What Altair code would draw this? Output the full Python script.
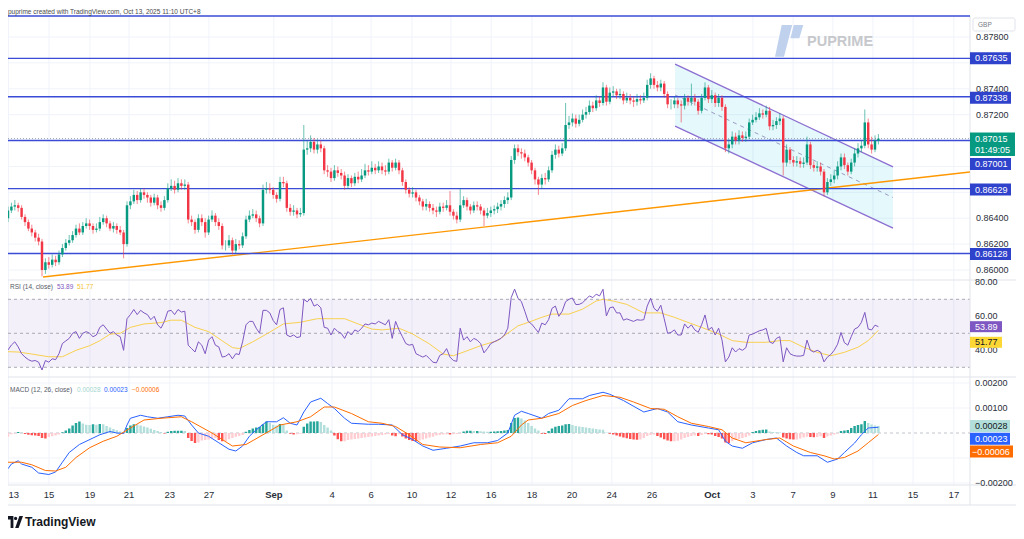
import altair as alt
import pandas as pd

# ---------------- data ----------------
first_open = 0.8640
closes = [
    0.8646, 0.8649, 0.8650, 0.8648, 0.8641, 0.8637, 0.8632, 0.8629, 0.8625, 0.8622,
    0.8600, 0.8606, 0.8604, 0.8608, 0.8606, 0.8612, 0.8617, 0.8621, 0.8623, 0.8627,
    0.8632, 0.8629, 0.8634, 0.8636, 0.8634, 0.8631, 0.8632, 0.8637, 0.8640, 0.8636,
    0.8632, 0.8634, 0.8631, 0.8629, 0.8620, 0.8650, 0.8653, 0.8658, 0.8654, 0.8660,
    0.8658, 0.8656, 0.8652, 0.8656, 0.8650, 0.8648, 0.8654, 0.8663, 0.8665, 0.8662,
    0.8667, 0.8665, 0.8666, 0.8639, 0.8637, 0.8631, 0.8640, 0.8637, 0.8629, 0.8639,
    0.8642, 0.8637, 0.8634, 0.8619, 0.8619, 0.8623, 0.8615, 0.8620, 0.8619, 0.8626,
    0.8639, 0.8642, 0.8643, 0.8640, 0.8636, 0.8662, 0.8663, 0.8662, 0.8658, 0.8655,
    0.8668, 0.8667, 0.8648, 0.8645, 0.8646, 0.8643, 0.8644, 0.8693, 0.8694, 0.8699,
    0.8693, 0.8697, 0.8694, 0.8677, 0.8676, 0.8671, 0.8677, 0.8675, 0.8673, 0.8665,
    0.8671, 0.8667, 0.8672, 0.8670, 0.8673, 0.8677, 0.8676, 0.8679, 0.8677, 0.8680,
    0.8677, 0.8676, 0.8683, 0.8679, 0.8683, 0.8677, 0.8668, 0.8662, 0.8659, 0.8660,
    0.8656, 0.8653, 0.8649, 0.8651, 0.8648, 0.8646, 0.8645, 0.8649, 0.8648, 0.8650,
    0.8645, 0.8642, 0.8639, 0.8650, 0.8654, 0.8649, 0.8646, 0.8650, 0.8649, 0.8646,
    0.8642, 0.8644, 0.8646, 0.8647, 0.8649, 0.8651, 0.8654, 0.8656, 0.8685, 0.8694,
    0.8691, 0.8690, 0.8687, 0.8683, 0.8677, 0.8670, 0.8666, 0.8671, 0.8670, 0.8677,
    0.8689, 0.8693, 0.8690, 0.8694, 0.8712, 0.8714, 0.8717, 0.8713, 0.8716, 0.8720,
    0.8722, 0.8727, 0.8725, 0.8731, 0.8729, 0.8741, 0.8730, 0.8737, 0.8738, 0.8735,
    0.8736, 0.8731, 0.8733, 0.8731, 0.8730, 0.8732, 0.8731, 0.8733, 0.8743, 0.8748,
    0.8743, 0.8741, 0.8744, 0.8736, 0.8728, 0.8728, 0.8731, 0.8728, 0.8727, 0.8733,
    0.8730, 0.8733, 0.8730, 0.8723, 0.8733, 0.8741, 0.8732, 0.8735, 0.8729, 0.8733,
    0.8726, 0.8694, 0.8697, 0.8703, 0.8700, 0.8704, 0.8702, 0.8703, 0.8714, 0.8716,
    0.8718, 0.8721, 0.8720, 0.8723, 0.8711, 0.8712, 0.8715, 0.8717, 0.8683, 0.8693,
    0.8685, 0.8683, 0.8684, 0.8682, 0.8683, 0.8697, 0.8681, 0.8679, 0.8680, 0.8676,
    0.8660, 0.8668, 0.8670, 0.8673, 0.8680, 0.8687, 0.8681, 0.8676, 0.8683, 0.8690,
    0.8694, 0.8696, 0.8714, 0.8697, 0.8693, 0.8700, 0.87015,
]
highs = [
    0.8649, 0.8652, 0.8654, 0.8652, 0.8650, 0.8643, 0.8639, 0.8635, 0.8631, 0.8628,
    0.8624, 0.8609, 0.8610, 0.8612, 0.8611, 0.8615, 0.8620, 0.8624, 0.8627, 0.8630,
    0.8635, 0.8636, 0.8637, 0.8640, 0.8639, 0.8636, 0.8636, 0.8641, 0.8643, 0.8642,
    0.8638, 0.8637, 0.8636, 0.8634, 0.8631, 0.8653, 0.8657, 0.8662, 0.8661, 0.8663,
    0.8663, 0.8660, 0.8658, 0.8659, 0.8658, 0.8653, 0.8657, 0.8667, 0.8670, 0.8669,
    0.8671, 0.8670, 0.8670, 0.8668, 0.8642, 0.8639, 0.8643, 0.8643, 0.8640, 0.8642,
    0.8646, 0.8644, 0.8640, 0.8636, 0.8623, 0.8627, 0.8625, 0.8624, 0.8623, 0.8629,
    0.8642, 0.8646, 0.8647, 0.8646, 0.8642, 0.8666, 0.8668, 0.8667, 0.8664, 0.8660,
    0.8672, 0.8672, 0.8669, 0.8651, 0.8650, 0.8648, 0.8648, 0.8712, 0.8700, 0.8704,
    0.8702, 0.8701, 0.8700, 0.8696, 0.8681, 0.8679, 0.8681, 0.8680, 0.8678, 0.8676,
    0.8674, 0.8673, 0.8675, 0.8676, 0.8678, 0.8682, 0.8681, 0.8684, 0.8682, 0.8684,
    0.8683, 0.8681, 0.8686, 0.8685, 0.8686, 0.8685, 0.8679, 0.8670, 0.8664, 0.8664,
    0.8662, 0.8658, 0.8655, 0.8655, 0.8653, 0.8651, 0.8649, 0.8652, 0.8652, 0.8654,
    0.8661, 0.8647, 0.8645, 0.8663, 0.8657, 0.8656, 0.8651, 0.8653, 0.8653, 0.8651,
    0.8648, 0.8648, 0.8649, 0.8650, 0.8652, 0.8654, 0.8657, 0.8660, 0.8688, 0.8697,
    0.8697, 0.8694, 0.8693, 0.8689, 0.8685, 0.8679, 0.8672, 0.8674, 0.8675, 0.8680,
    0.8692, 0.8697, 0.8696, 0.8698, 0.8729, 0.8719, 0.8721, 0.8720, 0.8720, 0.8724,
    0.8726, 0.8731, 0.8730, 0.8735, 0.8734, 0.8745, 0.8743, 0.8741, 0.8742, 0.8740,
    0.8740, 0.8738, 0.8737, 0.8736, 0.8734, 0.8736, 0.8735, 0.8737, 0.8747, 0.8752,
    0.8750, 0.8746, 0.8747, 0.8746, 0.8738, 0.8732, 0.8734, 0.8733, 0.8731, 0.8736,
    0.8735, 0.8744, 0.8736, 0.8732, 0.8736, 0.8745, 0.8743, 0.8739, 0.8737, 0.8736,
    0.8735, 0.8728, 0.8701, 0.8707, 0.8706, 0.8708, 0.8707, 0.8707, 0.8717, 0.8720,
    0.8722, 0.8725, 0.8724, 0.8727, 0.8726, 0.8716, 0.8718, 0.8721, 0.8719, 0.8697,
    0.8695, 0.8688, 0.8688, 0.8687, 0.8687, 0.8703, 0.8699, 0.8684, 0.8684, 0.8683,
    0.8678, 0.8671, 0.8674, 0.8677, 0.8684, 0.8690, 0.8690, 0.8683, 0.8686, 0.8694,
    0.8698, 0.8700, 0.8724, 0.8717, 0.8703, 0.8704, 0.8705,
]
lows = [
    0.8637, 0.8644, 0.8646, 0.8645, 0.8639, 0.8634, 0.8630, 0.8626, 0.8622, 0.8619,
    0.8595, 0.8597, 0.8601, 0.8602, 0.8603, 0.8604, 0.8610, 0.8615, 0.8619, 0.8621,
    0.8625, 0.8627, 0.8627, 0.8632, 0.8631, 0.8628, 0.8629, 0.8630, 0.8635, 0.8633,
    0.8630, 0.8629, 0.8628, 0.8627, 0.8609, 0.8618, 0.8647, 0.8651, 0.8651, 0.8652,
    0.8655, 0.8652, 0.8649, 0.8650, 0.8647, 0.8645, 0.8646, 0.8652, 0.8661, 0.8659,
    0.8660, 0.8662, 0.8662, 0.8636, 0.8634, 0.8628, 0.8629, 0.8634, 0.8625, 0.8627,
    0.8637, 0.8634, 0.8631, 0.8616, 0.8615, 0.8617, 0.8612, 0.8613, 0.8616, 0.8617,
    0.8624, 0.8637, 0.8640, 0.8637, 0.8633, 0.8634, 0.8659, 0.8659, 0.8655, 0.8652,
    0.8653, 0.8664, 0.8645, 0.8642, 0.8642, 0.8640, 0.8641, 0.8642, 0.8689, 0.8691,
    0.8690, 0.8690, 0.8691, 0.8674, 0.8672, 0.8668, 0.8669, 0.8672, 0.8670, 0.8662,
    0.8663, 0.8664, 0.8665, 0.8667, 0.8668, 0.8671, 0.8673, 0.8674, 0.8674, 0.8675,
    0.8674, 0.8673, 0.8674, 0.8676, 0.8677, 0.8674, 0.8665, 0.8659, 0.8656, 0.8656,
    0.8653, 0.8650, 0.8646, 0.8646, 0.8645, 0.8643, 0.8641, 0.8643, 0.8645, 0.8646,
    0.8642, 0.8639, 0.8636, 0.8637, 0.8648, 0.8646, 0.8643, 0.8644, 0.8646, 0.8643,
    0.8634, 0.8640, 0.8641, 0.8643, 0.8644, 0.8646, 0.8648, 0.8651, 0.8654, 0.8682,
    0.8688, 0.8686, 0.8684, 0.8680, 0.8674, 0.8666, 0.8658, 0.8663, 0.8666, 0.8668,
    0.8675, 0.8686, 0.8687, 0.8688, 0.8692, 0.8709, 0.8711, 0.8710, 0.8711, 0.8714,
    0.8717, 0.8720, 0.8722, 0.8723, 0.8726, 0.8727, 0.8727, 0.8728, 0.8734, 0.8732,
    0.8732, 0.8728, 0.8729, 0.8728, 0.8726, 0.8727, 0.8728, 0.8729, 0.8731, 0.8740,
    0.8740, 0.8738, 0.8738, 0.8733, 0.8725, 0.8724, 0.8725, 0.8725, 0.8714, 0.8724,
    0.8727, 0.8727, 0.8727, 0.8720, 0.8721, 0.8731, 0.8729, 0.8729, 0.8726, 0.8726,
    0.8723, 0.8691, 0.8690, 0.8694, 0.8697, 0.8697, 0.8699, 0.8699, 0.8701, 0.8712,
    0.8714, 0.8716, 0.8717, 0.8718, 0.8708, 0.8708, 0.8709, 0.8712, 0.8673, 0.8680,
    0.8682, 0.8680, 0.8680, 0.8679, 0.8679, 0.8681, 0.8678, 0.8676, 0.8676, 0.8673,
    0.8657, 0.8658, 0.8665, 0.8667, 0.8670, 0.8677, 0.8678, 0.8673, 0.8674, 0.8680,
    0.8687, 0.8691, 0.8694, 0.8694, 0.8690, 0.8691, 0.8697,
]
rsi_values = [
    40.2, 43.1, 45, 42, 38, 36, 34.5, 33.6, 34, 33,
    28.4, 34, 33, 35, 34.5, 38, 44, 45.5, 47, 50,
    51, 47, 50, 51, 50, 48, 49, 53.5, 55, 52.5,
    50, 51, 49, 48, 40, 58.6, 61, 64, 61, 63.5,
    62, 61, 58, 60, 55, 53, 57, 63, 63.5, 61,
    64, 62.5, 63, 43, 41, 39, 45, 43, 38, 46,
    48, 43, 42, 36, 36.5, 38, 35, 38, 37.5, 45,
    55, 57, 57, 53, 50, 63.5, 63.5, 62, 57.5, 55,
    64, 65, 49, 48, 49, 47.5, 48, 70, 68.5, 70.5,
    66, 67, 65, 53.5, 53, 49, 53, 51, 50, 47,
    51, 49, 52, 51, 53, 55.5, 55, 56, 55.5, 57,
    56, 55, 58, 47, 57, 52, 48, 44, 43, 43.5,
    38, 37, 36, 37, 35, 33, 32.6, 37, 38, 41,
    36, 34, 33.5, 53, 46, 48, 45, 47, 46, 44,
    38.5, 41, 44, 45, 46, 47, 49, 53, 71, 76,
    70.6, 68.6, 63, 57, 55.5, 53, 50.5, 56, 55, 58,
    64.7, 66, 60, 63, 68.6, 70, 70.8, 66.9, 67, 68,
    70, 72, 71, 73, 72, 75.9, 60.2, 65, 65.5, 62,
    62, 57.7, 58.5, 57.7, 57, 58, 57.7, 58, 66, 70.6,
    64.7, 63, 66.5, 58.6, 50, 50.5, 52, 49, 49, 55.5,
    53, 55, 52, 50.6, 55, 60.8, 52, 53.5, 49, 53,
    46, 33.2, 36, 41.5, 39, 41, 40, 41.5, 49, 49.5,
    50.5, 51.5, 52, 52.9, 45, 44, 47, 48, 33.2, 41.5,
    38, 37, 36.6, 36.6, 37, 46, 40, 39, 40, 39,
    33.2, 36, 37.5, 40, 43.6, 50.5, 44.5, 43, 48, 52.5,
    53.5, 56.4, 62.3, 52.5, 52, 54.8, 53.89,
]
rsi_ma_idx = [0, 3, 7, 12, 16, 20, 24, 27, 30, 33, 36, 40, 45, 48, 51, 55, 59, 63, 66, 68,
              72, 76, 81, 86, 91, 96, 99, 103, 107, 110, 115, 119, 124, 128, 131, 135, 139, 144, 148, 150,
              153, 157, 160, 162, 165, 169, 173, 175, 178, 182, 187, 192, 196, 200, 204, 209, 213, 217, 223, 227,
              230, 234, 238, 242, 246, 250, 253, 256]
rsi_ma_values = [39.2, 39, 37.8, 36.2, 36.2, 40, 42.7, 45.6, 49.5, 50, 53.5, 55.5, 56.3, 57.7, 57.7, 53.5, 51, 45.6, 41.6, 41,
                 45, 49.5, 55.5, 56.5, 58.6, 58.6, 58.6, 55.5, 52.5, 52, 53, 49.6, 43.7, 37.8, 36.8, 39.7, 42.7, 45.7, 51.5, 54.4,
                 56.4, 59.4, 61.3, 61.3, 61.3, 64.2, 69, 70, 69, 67, 62, 62, 59.4, 56.4, 53.5, 49.6, 45.7, 44.7, 44.7, 45.7,
                 45.7, 41.8, 38.8, 36.8, 38.8, 41.8, 45.7, 51.77]
macd_idx = [0, 1, 3, 4, 7, 9, 12, 14, 16, 18, 21, 25, 27, 30, 32, 34, 35, 36, 39, 41,
            44, 47, 50, 52, 54, 56, 59, 62, 65, 67, 69, 71, 73, 76, 79, 81, 83, 85, 87, 89,
            92, 94, 96, 99, 101, 106, 109, 113, 116, 119, 122, 125, 129, 133, 137, 141, 144, 147, 149, 151,
            153, 157, 159, 162, 165, 169, 171, 175, 177, 181, 187, 191, 194, 197, 201, 206, 209, 211, 213, 216,
            219, 223, 226, 229, 232, 234, 238, 241, 244, 246, 249, 251, 253, 256]
macd_values = [-0.00143, -0.00124, -0.00111, -0.00124, -0.00137, -0.0016, -0.00166, -0.00156, -0.00117, -0.00078,
               -0.00046, -0.0002, -0.00007, 0.00006, 0.0, -0.00002, 0.00032, 0.00059, 0.00071, 0.00065,
               0.00059, 0.00065, 0.00071, 0.00068, 0.00032, 0.0, -0.00013, -0.00039, -0.00065, -0.00072,
               -0.00052, -0.00013, 0.00013, 0.00045, 0.00045, 0.00061, 0.00039, 0.00032, 0.00084, 0.00124,
               0.00139, 0.00118, 0.00098, 0.00059, 0.00039, 0.00035, 0.00035, 0.00032, -0.00007, -0.00026,
               -0.00052, -0.00069, -0.00061, -0.00052, -0.00039, -0.00039, -0.0003, 0.0, 0.00071, 0.00087,
               0.00078, 0.00059, 0.00078, 0.00091, 0.00137, 0.00137, 0.0015, 0.00163, 0.00155, 0.0013,
               0.00084, 0.00098, 0.00084, 0.00045, 0.00032, 0.0002, 0.00013, -0.00033, -0.00052, -0.00061,
               -0.00039, -0.00026, -0.0002, -0.00052, -0.00078, -0.00091, -0.00091, -0.00117, -0.00104, -0.00078,
               -0.0004, -0.00007, 0.0002, 0.00023]
signal_idx = [0, 4, 7, 11, 14, 17, 20, 24, 28, 32, 36, 40, 45, 51, 54, 60, 66, 70, 75, 80,
              85, 89, 93, 96, 101, 106, 110, 114, 118, 122, 127, 133, 139, 144, 148, 151, 153, 157, 162, 166,
              170, 175, 180, 184, 189, 193, 197, 201, 206, 210, 213, 217, 223, 227, 231, 236, 240, 243, 246, 250,
              253, 256]
signal_values = [-0.00117, -0.00117, -0.00127, -0.0015, -0.00152, -0.00137, -0.00098, -0.00059, -0.00033, -0.00013,
                 0.0002, 0.00052, 0.00059, 0.00065, 0.00045, 0.0, -0.00052, -0.00046, -0.00007, 0.00032,
                 0.00045, 0.00065, 0.00104, 0.00104, 0.00078, 0.00045, 0.00039, 0.00026, -0.00007, -0.00046,
                 -0.00056, -0.00059, -0.00046, -0.00039, -0.00013, 0.00032, 0.00052, 0.00059, 0.00078, 0.0011,
                 0.0013, 0.0015, 0.00143, 0.00124, 0.00098, 0.00095, 0.00065, 0.00039, 0.00026, 0.00013,
                 -0.0002, -0.00039, -0.00026, -0.0002, -0.00052, -0.00078, -0.00091, -0.00104, -0.00098, -0.00072,
                 -0.00039, -0.00006]
# MACD histogram, in units of 0.00001
hist_e5 = [
    -15, -5, -2, 4, 2, -4, -7, -9, -10, -12,
    -20, -22, -16, -13, -10, -6, 3, 10, 18, 30,
    40, 46, 38, 33, 32, 35, 33, 36, 35, 28,
    22, 16, 11, 6, 3, 20, 30, 35, 34, 30,
    26, 22, 17, 12, 8, 4, -2, 5, 8, 9,
    9, 9, 8, -20, -32, -40, -38, -30, -28, -26,
    -22, -20, -28, -33, -33, -25, -20, -15, -12, -8,
    5, 12, 18, 22, 24, 35, 46, 40, 33, 30,
    36, 33, 10, -3, -6, -5, -3, 25, 38, 46,
    46, 47, 44, 32, 22, 10, -10, -25, -33, -33,
    -28, -26, -24, -22, -20, -18, -16, -14, -12, -10,
    -8, -6, -4, -10, -13, -5, -14, -22, -28, -32,
    -33, -30, -26, -22, -18, -15, -10, -8, -6, -5,
    -6, -5, -4, -2, 6, 9, 9, 8, 8, 7,
    6, 5, 5, 6, 7, 8, 10, 12, 40, 60,
    62, 58, 50, 40, 28, 18, 10, -3, -4, 8,
    18, 25, 28, 30, 35, 36, 32, 28, 26, 24,
    22, 20, 18, 16, 14, 13, 2, -3, -6, -10,
    -14, -18, -21, -24, -26, -27, -26, -20, -12, -8,
    -6, -12, -18, -25, -30, -33, -33, -31, -26, -20,
    -16, -12, -10, -12, -8, -4, -5, -6, -12, -16,
    -22, -38, -40, -33, -28, -24, -20, -16, -10, 4,
    8, 11, 13, 14, 6, 4, 3, 2, -18, -22,
    -25, -26, -26, -22, -18, -15, -16, -17, -16, -13,
    -20, -14, -10, -6, -2, 8, 10, 12, 20, 28,
    32, 35, 48, 40, 34, 30, 28,
]

level_prices = [0.87635, 0.87338, 0.87001, 0.86629, 0.86128]
last_price = 0.87015
countdown = "01:49:05"
last_rsi = 53.89
last_rsi_ma = 51.77
last_hist = 0.00028
last_macd = 0.00023
last_signal = -0.00006

price_ticks = [0.860, 0.862, 0.864, 0.866, 0.868, 0.870, 0.872, 0.874, 0.876, 0.878]
# tick labels that are not covered by the price boxes on the right
price_tick_labels_shown = [0.860, 0.862, 0.864, 0.872, 0.874, 0.878]
rsi_ticks = [40, 60, 80]
rsi_levels = [30, 50, 70]
macd_ticks = [-0.002, -0.001, 0.001, 0.002]
macd_tick_labels_shown = [-0.002, 0.001, 0.002]
xtick_labels = ["13", "15", "19", "21", "23", "27", "Sep", "4", "6", "10", "12", "16",
                "18", "20", "24", "26", "Oct", "3", "7", "9", "11", "15", "17"]
xtick_pos = [0.15, 12.06, 24.1, 35.6, 47.6, 59.1, 78.2, 95.3, 106.8, 118.8, 130.3, 142.1,
             154.1, 165.9, 177.6, 189.4, 207.1, 219.1, 230.9, 242.6, 254.4, 266.2, 278.2]

channel_idx = [196.2, 260.3]
channel_upper = [0.87591, 0.86796]
channel_mid = [0.87352, 0.86560]
channel_lower = [0.87112, 0.86324]
trend_idx = [10.3, 282.9]
trend_price = [0.85946, 0.86757]

assert len(closes) == len(highs) == len(lows) == len(rsi_values) == len(hist_e5)
assert len(rsi_ma_idx) == len(rsi_ma_values)
assert len(macd_idx) == len(macd_values)
assert len(signal_idx) == len(signal_values)

# ---------------- styles ----------------
FONT = "Liberation Sans"
UP, DOWN = "#089981", "#f23645"
LEVEL = "#3a4bd6"
LEVEL_BOX = "#2f42cc"
GRID = "#f0f3fa"
SEP = "#e0e3eb"
PLOT_R = 962

XS = alt.Scale(domain=[0, 282.94], range=[0, PLOT_R], nice=False, zero=False)
PS = alt.Scale(domain=[0.860, 0.878], range=[262, 29], nice=False, zero=False)
RS = alt.Scale(domain=[30, 70], range=[359.3, 291.3], nice=False, zero=False)
MS = alt.Scale(domain=[-0.002, 0.002], range=[475, 375], nice=False, zero=False)

one = pd.DataFrame({"k": [0]})
layers = []


def xq(f):
    return alt.X(f, type="quantitative", scale=XS, axis=None)


def yq(f, s):
    return alt.Y(f, type="quantitative", scale=s, axis=None)


def hline_px(y, color=SEP, x0=0, x1=1008, width=1):
    return alt.Chart(one).mark_rule(color=color, strokeWidth=width).encode(
        x=alt.value(x0), x2=alt.value(x1), y=alt.value(y))


# grids
layers.append(alt.Chart(pd.DataFrame({"v": price_ticks})).mark_rule(color=GRID).encode(
    y=yq("v", PS), x=alt.value(0), x2=alt.value(PLOT_R)))
layers.append(alt.Chart(pd.DataFrame({"v": macd_ticks})).mark_rule(color=GRID).encode(
    y=yq("v", MS), x=alt.value(0), x2=alt.value(PLOT_R)))
xt = pd.DataFrame({"pos": xtick_pos, "label": xtick_labels})
xt["month"] = xt["label"].isin(["Sep", "Oct"])
layers.append(alt.Chart(xt).mark_rule(color=GRID).encode(
    x=xq("pos"), y=alt.value(8), y2=alt.value(477)))

# RSI band and levels
layers.append(alt.Chart(pd.DataFrame({"lo": [30], "hi": [70]})).mark_rect(
    color="#7e57c2", opacity=0.09).encode(
    y=yq("lo", RS), y2="hi:Q", x=alt.value(0), x2=alt.value(PLOT_R)))
layers.append(alt.Chart(pd.DataFrame({"v": rsi_levels})).mark_rule(
    color="#9598a1", strokeDash=[3, 3], strokeWidth=0.8).encode(
    y=yq("v", RS), x=alt.value(0), x2=alt.value(PLOT_R)))

# frame / separators
for yy in [272, 369, 477, 497]:
    layers.append(hline_px(yy))
layers.append(alt.Chart(one).mark_rule(color=SEP).encode(
    x=alt.value(PLOT_R), y=alt.value(8), y2=alt.value(497)))
layers.append(hline_px(8, color=LEVEL, x0=0, x1=PLOT_R, width=1.4))

# watermark
layers.append(alt.Chart(one).mark_point(
    shape="M -0.456 -1 L 0.2 -1 L -0.3125 0.98 L -0.875 0.98 Z M 0.3 -1 L 0.894 -1 L 0.644 -0.169 L 0.09 -0.169 Z",
    size=1024, filled=True, color="#bfd1ec", opacity=1, strokeWidth=0).encode(
    x=alt.value(781), y=alt.value(33)))
layers.append(alt.Chart(one).mark_text(
    text="PUPRIME", font=FONT, fontSize=14.5, fontWeight="bold", color="#c6c8cc",
    align="left", baseline="middle").encode(x=alt.value(799), y=alt.value(34)))

# channel
ch = pd.DataFrame({"i": channel_idx, "up": channel_upper, "mid": channel_mid, "lo": channel_lower})
layers.append(alt.Chart(ch).mark_area(color="#00bcd4", opacity=0.1).encode(
    x=xq("i"), y=yq("up", PS), y2="lo:Q"))
layers.append(alt.Chart(ch).mark_line(color="#8c6fd1", strokeWidth=1.3).encode(x=xq("i"), y=yq("up", PS)))
layers.append(alt.Chart(ch).mark_line(color="#8c6fd1", strokeWidth=1.3).encode(x=xq("i"), y=yq("lo", PS)))
layers.append(alt.Chart(ch).mark_line(color="#9a9cc4", strokeWidth=1, strokeDash=[4, 4]).encode(
    x=xq("i"), y=yq("mid", PS)))

# trend line
layers.append(alt.Chart(pd.DataFrame({"i": trend_idx, "p": trend_price})).mark_line(
    color="#ff9800", strokeWidth=1.4).encode(x=xq("i"), y=yq("p", PS)))

# horizontal levels
layers.append(alt.Chart(pd.DataFrame({"p": level_prices})).mark_rule(color=LEVEL, strokeWidth=1.4).encode(
    y=yq("p", PS), x=alt.value(0), x2=alt.value(PLOT_R)))
layers.append(alt.Chart(pd.DataFrame({"p": [last_price]})).mark_rule(
    color="#9aa0b4", strokeDash=[1, 2], strokeWidth=1).encode(
    y=yq("p", PS), x=alt.value(0), x2=alt.value(PLOT_R)))

# candles
opens = [first_open] + closes[:-1]
cdf = pd.DataFrame({"i": list(range(len(closes))), "open": opens, "close": closes,
                    "high": highs, "low": lows})
cdf["col"] = [UP if c >= o else DOWN for o, c in zip(opens, closes)]
layers.append(alt.Chart(cdf).mark_rule(strokeWidth=1, opacity=0.6).encode(
    x=xq("i"), y=yq("low", PS), y2="high:Q", color=alt.Color("col:N", scale=None)))
layers.append(alt.Chart(cdf).transform_calculate(
    x0="datum.i - 0.36", x1="datum.i + 0.36").mark_rect().encode(
    x=xq("x0"), x2="x1:Q", y=yq("open", PS), y2="close:Q", color=alt.Color("col:N", scale=None)))

# RSI
rdf = pd.DataFrame({"i": list(range(len(rsi_values))), "v": rsi_values})
layers.append(alt.Chart(pd.DataFrame({"i": rsi_ma_idx, "v": rsi_ma_values})).mark_line(
    color="#f9d14f", strokeWidth=1).encode(x=xq("i"), y=yq("v", RS)))
layers.append(alt.Chart(rdf).mark_line(color="#7e57c2", strokeWidth=1).encode(x=xq("i"), y=yq("v", RS)))

# MACD
hcol = []
prev = None
for v in hist_e5:
    p = v if prev is None else prev
    if v >= 0:
        hcol.append("#26a69a" if v >= p else "#b2dfdb")
    else:
        hcol.append("#ffcdd2" if v >= p else "#ff5252")
    prev = v
hdf = pd.DataFrame({"i": list(range(len(hist_e5))), "h": [v * 1e-5 for v in hist_e5],
                    "zero": [0.0] * len(hist_e5), "col": hcol})
layers.append(alt.Chart(pd.DataFrame({"v": [0.0]})).mark_rule(
    color="#b2b5be", strokeDash=[3, 3], strokeWidth=0.8).encode(
    y=yq("v", MS), x=alt.value(0), x2=alt.value(PLOT_R)))
layers.append(alt.Chart(hdf).transform_calculate(
    x0="datum.i - 0.36", x1="datum.i + 0.36").mark_rect().encode(
    x=xq("x0"), x2="x1:Q", y=yq("zero", MS), y2="h:Q", color=alt.Color("col:N", scale=None)))
layers.append(alt.Chart(pd.DataFrame({"i": macd_idx, "v": macd_values})).mark_line(
    color="#2962ff", strokeWidth=1).encode(x=xq("i"), y=yq("v", MS)))
layers.append(alt.Chart(pd.DataFrame({"i": signal_idx, "v": signal_values})).mark_line(
    color="#ff6d00", strokeWidth=1).encode(x=xq("i"), y=yq("v", MS)))

# axis labels (right side)
AX = "#2a2e39"
pt = pd.DataFrame({"v": price_tick_labels_shown, "t": ["%.5f" % v for v in price_tick_labels_shown]})
layers.append(alt.Chart(pt).mark_text(align="left", baseline="middle", font=FONT, fontSize=9, color=AX).encode(
    y=yq("v", PS), x=alt.value(968), text="t:N"))
rt = pd.DataFrame({"v": rsi_ticks, "t": ["%.2f" % v for v in rsi_ticks]})
layers.append(alt.Chart(rt).mark_text(align="left", baseline="middle", font=FONT, fontSize=9, color=AX).encode(
    y=yq("v", RS), x=alt.value(967), text="t:N"))
mt = pd.DataFrame({"v": macd_tick_labels_shown,
                   "t": [("%.5f" % v).replace("-", "\u2212") for v in macd_tick_labels_shown]})
layers.append(alt.Chart(mt).mark_text(align="left", baseline="middle", font=FONT, fontSize=9, color=AX).encode(
    y=yq("v", MS), x=alt.value(967), text="t:N"))

# x labels (first one left-aligned so it stays inside the page)
xt_first = xt.iloc[:1]
xt_rest = xt.iloc[1:]
layers.append(alt.Chart(xt_first).mark_text(
    align="left", baseline="middle", font=FONT, fontSize=9.5, color=AX).encode(
    x=xq("pos"), y=alt.value(487), text="label:N"))
layers.append(alt.Chart(xt_rest[~xt_rest["month"]]).mark_text(
    baseline="middle", font=FONT, fontSize=9.5, color=AX).encode(
    x=xq("pos"), y=alt.value(487), text="label:N"))
layers.append(alt.Chart(xt_rest[xt_rest["month"]]).mark_text(
    baseline="middle", font=FONT, fontSize=9.5, fontWeight="bold", color=AX).encode(
    x=xq("pos"), y=alt.value(487), text="label:N"))


def box(value, scale, fill, label, tcolor, dy=0.0, x2=1003, top=-6.0, bottom=6.0, tx=967):
    d = pd.DataFrame({"v": [value], "t": [label]})
    r = alt.Chart(d).mark_rect(fill=fill, yOffset=dy + top, y2Offset=dy + bottom).encode(
        y=yq("v", scale), y2="v:Q", x=alt.value(962), x2=alt.value(x2))
    t = alt.Chart(d).mark_text(align="left", baseline="middle", dy=dy, font=FONT, fontSize=9,
                               color=tcolor).encode(y=yq("v", scale), x=alt.value(tx), text="t:N")
    return [r, t]


# price boxes
layers += box(0.87635, PS, LEVEL_BOX, "0.87635", "white")
layers += box(0.87338, PS, LEVEL_BOX, "0.87338", "white", dy=1)
layers += box(0.87001, PS, LEVEL_BOX, "0.87001", "white", dy=23.5)
layers += box(0.86629, PS, LEVEL_BOX, "0.86629", "white", dy=1)
layers += box(0.86128, PS, LEVEL_BOX, "0.86128", "white", dy=0.5)
layers += box(last_price, PS, UP, "%.5f" % last_price, "white", x2=1007, top=-6.0, bottom=17.5)
layers.append(alt.Chart(pd.DataFrame({"v": [last_price], "t": [countdown]})).mark_text(
    align="left", baseline="middle", dy=11.5, font=FONT, fontSize=9, color="white").encode(
    y=yq("v", PS), x=alt.value(967), text="t:N"))

# rsi boxes
layers += box(last_rsi, RS, "#7e57c2", "%.2f" % last_rsi, "white", x2=994, top=-5.5, bottom=5.5)
layers += box(last_rsi_ma, RS, "#fdd835", "%.2f" % last_rsi_ma, "#131722", dy=12, x2=994, top=-5.5, bottom=5.5)
# macd boxes
layers += box(last_hist, MS, "#b2dfdb", "%.5f" % last_hist, "#131722", x2=1002)
layers += box(last_macd, MS, "#2962ff", "%.5f" % last_macd, "white", dy=11.5, x2=1002)
layers += box(last_signal, MS, "#ff6d00", ("%.5f" % last_signal).replace("-", "\u2212"), "white",
              dy=17, x2=1005, tx=964)

# GBP box
layers.append(alt.Chart(one).mark_rect(fill="white", stroke=SEP, strokeWidth=1, cornerRadius=2).encode(
    x=alt.value(965), x2=alt.value(1007), y=alt.value(10), y2=alt.value(23)))
layers.append(alt.Chart(one).mark_text(text="GBP", font=FONT, fontSize=6.5, color="#787b86",
                                       align="left", baseline="middle").encode(
    x=alt.value(970), y=alt.value(16.5)))


# legends
def txt(s, x, y, color, size=6.5, weight="normal"):
    return alt.Chart(one).mark_text(text=s, font=FONT, fontSize=size, fontWeight=weight, color=color,
                                    align="left", baseline="middle").encode(x=alt.value(x), y=alt.value(y))


layers.append(txt("puprime created with TradingView.com, Oct 13, 2025 11:10 UTC+8", 0, 4, "#4a4a4a"))
layers.append(txt("RSI (14, close)", 2, 279, "#555a66"))
layers.append(txt("53.89", 49, 279, "#7e57c2"))
layers.append(txt("51.77", 69, 279, "#f2c230"))
layers.append(txt("MACD (12, 26, close)", 2, 382, "#555a66"))
layers.append(txt("0.00028", 69, 382, "#9fd6cf"))
layers.append(txt("0.00023", 96, 382, "#2962ff"))
layers.append(txt("\u22120.00006", 124, 382, "#ff6d00"))

# TradingView logo mark (bar + dot + slant) and word mark
layers.append(alt.Chart(one).mark_point(
    shape=("M -1 -0.75 L -0.2 -0.75 L -0.2 0.75 L -0.55 0.75 L -0.55 -0.3 L -1 -0.3 Z "
           "M -0.12 -0.45 A 0.2 0.2 0 1 0 0.28 -0.45 A 0.2 0.2 0 1 0 -0.12 -0.45 Z "
           "M 0.55 -0.75 L 1 -0.75 L 0.45 0.75 L 0.02 0.75 Z"),
    size=256, filled=True, color="#131722", opacity=1, strokeWidth=0).encode(
    x=alt.value(7), y=alt.value(514)))
layers.append(txt("TradingView", 17, 514, "#131722", size=12, weight="bold"))

chart = alt.layer(*layers).resolve_scale(y="independent").properties(
    width=1008, height=523, padding=0, autosize=alt.AutoSizeParams(type="none"),
    background="white"
).configure_view(strokeWidth=0)

chart.save("out.html", embed_options={"renderer": "svg", "actions": False})
